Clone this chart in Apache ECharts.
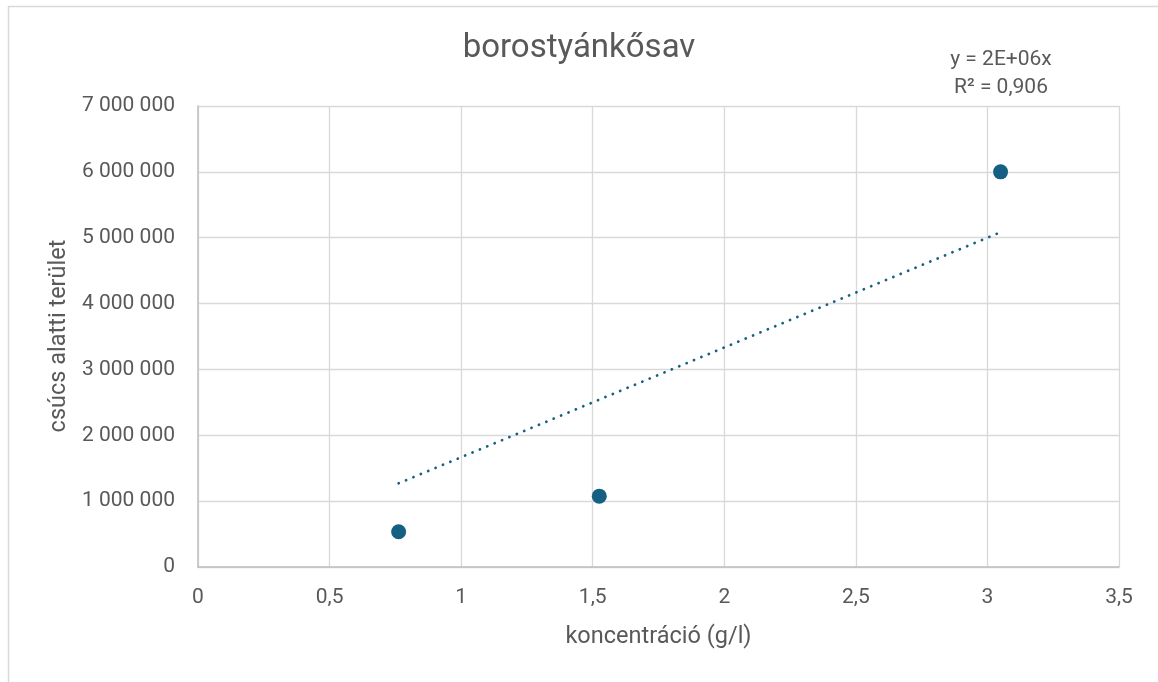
<!DOCTYPE html>
<html>
<head>
<meta charset="utf-8">
<style>
  html, body { margin: 0; padding: 0; background: #ffffff; }
  #chart { width: 1158px; height: 682px; }
</style>
<script src="https://cdn.jsdelivr.net/npm/echarts@6/dist/echarts.min.js"></script>
</head>
<body>
<div id="chart"></div>
<script>
// Measured samples: concentration (g/l) and peak area
const concentration = [0.7625, 1.525, 3.05];
const peakArea = [536000, 1076000, 6000000];

const xTicks = [0, 0.5, 1, 1.5, 2, 2.5, 3, 3.5];
const yTicks = [0, 1000000, 2000000, 3000000, 4000000, 5000000, 6000000, 7000000];

const FONT = 'Roboto, "Liberation Sans", sans-serif';
const TEXT = '#595959';
const ACCENT = '#156082';

// Least-squares line through the origin: y = b·x
let sxy = 0, sxx = 0, syy = 0;
concentration.forEach((x, i) => { sxy += x * peakArea[i]; sxx += x * x; syy += peakArea[i] * peakArea[i]; });
const slope = sxy / sxx;
let ssRes = 0;
concentration.forEach((x, i) => { const r = peakArea[i] - slope * x; ssRes += r * r; });
const r2 = 1 - ssRes / syy;

const xMin = Math.min(...concentration);
const xMax = Math.max(...concentration);
const trend = [[xMin, slope * xMin], [xMax, slope * xMax]];

function sci(v) {
  const [m, e] = v.toExponential(0).split('e');
  const n = parseInt(e, 10);
  return m + 'E' + (n < 0 ? '-' : '+') + String(Math.abs(n)).padStart(2, '0');
}
const eqText = 'y = ' + sci(slope) + 'x\nR² = ' + r2.toFixed(3).replace('.', ',');

const fmtY = v => String(Math.round(v)).replace(/\B(?=(\d{3})+(?!\d))/g, ' ');
const fmtX = v => String(v).replace('.', ',');

const chart = echarts.init(document.getElementById('chart'));
chart.setOption({
  backgroundColor: '#ffffff',
  animation: false,
  textStyle: { fontFamily: FONT },
  graphic: [
    { type: 'rect', shape: { x: 8.5, y: 6.5, width: 1200, height: 720 },
      style: { fill: 'none', stroke: '#D9D9D9', lineWidth: 1.5 }, silent: true, z: -10 },
    // trendline equation and R²
    { type: 'text', x: 1001, y: 46,
      style: { text: eqText, fill: TEXT, font: '21px ' + FONT, align: 'center', verticalAlign: 'top', lineHeight: 28 },
      silent: true },
    // vertical axis title
    { type: 'text', x: 59, y: 336, rotation: Math.PI / 2,
      style: { text: 'csúcs alatti terület', fill: TEXT, font: '23.5px ' + FONT, align: 'center', verticalAlign: 'middle' },
      silent: true }
  ],
  title: {
    text: 'borostyánkősav',
    left: 'center',
    top: 27,
    textStyle: { color: TEXT, fontSize: 33, fontWeight: 'normal', fontFamily: FONT }
  },
  grid: { left: 198, right: 39, top: 106, bottom: 115, containLabel: false },
  xAxis: {
    type: 'value',
    min: 0, max: 3.5, interval: 0.5,
    name: 'koncentráció (g/l)',
    nameLocation: 'middle',
    nameGap: 58,
    nameTextStyle: { color: TEXT, fontSize: 23.5, fontFamily: FONT },
    axisLine: { show: true, lineStyle: { color: '#BFBFBF', width: 1.5 } },
    axisTick: { show: false },
    axisLabel: { color: TEXT, fontSize: 21, margin: 20, formatter: fmtX,
                 customValues: xTicks },
    splitLine: { show: true, lineStyle: { color: '#D9D9D9', width: 1.3 } }
  },
  yAxis: {
    type: 'value',
    min: 0, max: 7000000, interval: 1000000,
    axisLine: { show: true, lineStyle: { color: '#BFBFBF', width: 1.5 } },
    axisTick: { show: false },
    axisLabel: { color: TEXT, fontSize: 21, margin: 23, formatter: fmtY,
                 customValues: yTicks },
    splitLine: { show: true, lineStyle: { color: '#D9D9D9', width: 1.3 } }
  },
  series: [
    {
      name: 'trend',
      type: 'line',
      data: trend,
      showSymbol: false,
      silent: true,
      lineStyle: { color: ACCENT, width: 2.75, type: [0.1, 7.9], cap: 'round' },
      z: 2
    },
    {
      name: 'minták',
      type: 'scatter',
      data: concentration.map((x, i) => [x, peakArea[i]]),
      symbol: 'circle',
      symbolSize: 15,
      itemStyle: { color: ACCENT, opacity: 1 },
      z: 3
    }
  ]
});
</script>
</body>
</html>
